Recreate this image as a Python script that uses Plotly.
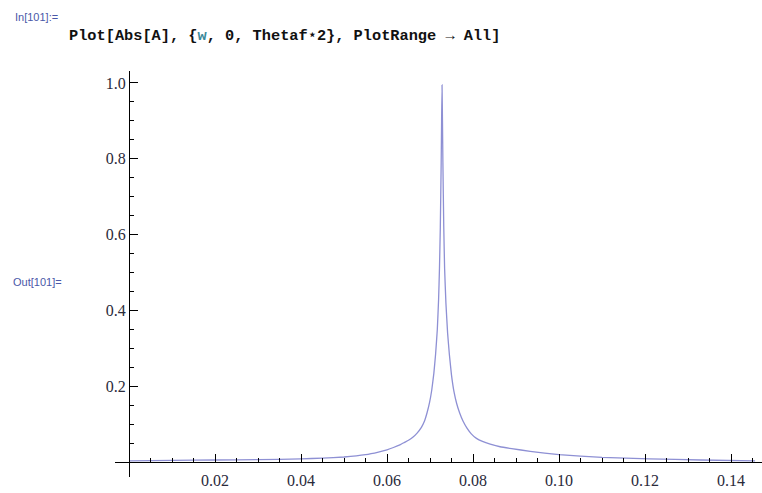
import plotly.graph_objects as go

# ---- data ----
w_vals = [0.0000, 0.0100, 0.0200, 0.0300, 0.0400, 0.0450, 0.0500, 0.0550,
          0.0580, 0.0600, 0.0615, 0.0630, 0.0640, 0.0650, 0.0660, 0.0670,
          0.0680, 0.0687, 0.0693, 0.0699, 0.0704, 0.0709, 0.0713, 0.0717,
          0.0720, 0.0722, 0.0724, 0.0726, 0.0727, 0.0728, 0.0729, 0.0730,
          0.0732, 0.0734, 0.0737, 0.0741, 0.0745, 0.0750, 0.0756, 0.0762,
          0.0769, 0.0777, 0.0786, 0.0796, 0.0808, 0.0822, 0.0840, 0.0863,
          0.0890, 0.0933, 0.1000, 0.1100, 0.1210, 0.1330, 0.1456]
absA_vals = [0.004, 0.005, 0.006, 0.007, 0.009, 0.011, 0.014, 0.020,
             0.027, 0.033, 0.039, 0.046, 0.052, 0.058, 0.066, 0.077,
             0.092, 0.108, 0.130, 0.158, 0.190, 0.235, 0.285, 0.350,
             0.430, 0.510, 0.620, 0.790, 0.900, 0.995, 0.900, 0.790,
             0.620, 0.510, 0.420, 0.340, 0.285, 0.230, 0.185, 0.155,
             0.130, 0.108, 0.090, 0.075, 0.063, 0.055, 0.048, 0.041,
             0.036, 0.029, 0.020, 0.013, 0.009, 0.006, 0.004]

x_tick_vals = [0.02, 0.04, 0.06, 0.08, 0.10, 0.12, 0.14]
x_tick_text = ["0.02", "0.04", "0.06", "0.08", "0.10", "0.12", "0.14"]
y_tick_vals = [0.2, 0.4, 0.6, 0.8, 1.0]
y_tick_text = ["0.2", "0.4", "0.6", "0.8", "1.0"]

in_label = "In[101]:="
out_label = "Out[101]="
code_text = ("Plot[Abs[A], {<span style='color:#3b8a9a'>w</span>, 0, "
             "Thetaf\u22c62}, PlotRange \u2192 All]")

# ---- figure ----
W, H = 762, 493
L, R, T, B = 115, 0, 71, 16
xmin, xmax = -0.003256, 0.147209
ymin, ymax = -0.03876, 1.0316

fig = go.Figure()
fig.add_trace(go.Scatter(x=w_vals, y=absA_vals, mode="lines",
                         line=dict(color="rgb(142,144,212)", width=1.3,
                                   shape="spline", smoothing=0.3),
                         hoverinfo="skip", showlegend=False))

tickfont = dict(family="Liberation Serif, Times New Roman, serif", size=16, color="#2a2a3a")

fig.update_layout(
    width=W, height=H, autosize=False,
    margin=dict(l=L, r=R, t=T, b=B, pad=0),
    paper_bgcolor="white", plot_bgcolor="white",
    xaxis=dict(range=[xmin, xmax], showgrid=False, zeroline=False,
               showline=True, linecolor="black", linewidth=1.3,
               anchor="free", position=(0 - ymin) / (ymax - ymin),
               side="bottom",
               tickmode="array", tickvals=x_tick_vals, ticktext=x_tick_text,
               ticks="inside", ticklen=8, tickwidth=1.3, tickcolor="black",
               tickfont=tickfont, ticklabelstandoff=3,
               minor=dict(dtick=0.005, tick0=0, ticks="inside", ticklen=4,
                          tickwidth=1.2, tickcolor="black", showgrid=False)),
    yaxis=dict(range=[ymin, ymax], showgrid=False, zeroline=False,
               showline=True, linecolor="black", linewidth=1.3,
               anchor="free", position=(0 - xmin) / (xmax - xmin),
               side="left",
               tickmode="array", tickvals=y_tick_vals, ticktext=y_tick_text,
               ticks="inside", ticklen=8, tickwidth=1.3, tickcolor="black",
               tickfont=tickfont,
               minor=dict(dtick=0.05, tick0=0, ticks="inside", ticklen=4,
                          tickwidth=1.2, tickcolor="black", showgrid=False)),
)

def px_x(p):
    return (p - L) / (W - L - R)

def px_y(p):
    return (H - B - p) / (H - T - B)

label_font = dict(family="Liberation Sans, Arial, sans-serif", size=11, color="#4a58a8")
fig.add_annotation(text=in_label, xref="paper", yref="paper",
                   x=px_x(13), y=px_y(17), xanchor="left", yanchor="middle",
                   showarrow=False, font=label_font)
fig.add_annotation(text=out_label, xref="paper", yref="paper",
                   x=px_x(11), y=px_y(282), xanchor="left", yanchor="middle",
                   showarrow=False, font=label_font)
fig.add_annotation(text="<b>" + code_text + "</b>", xref="paper", yref="paper",
                   x=px_x(67), y=px_y(36), xanchor="left", yanchor="middle",
                   showarrow=False,
                   font=dict(family="Liberation Mono, Courier New, monospace",
                             size=15.3, color="#111111"))

fig.write_html("out.html")
